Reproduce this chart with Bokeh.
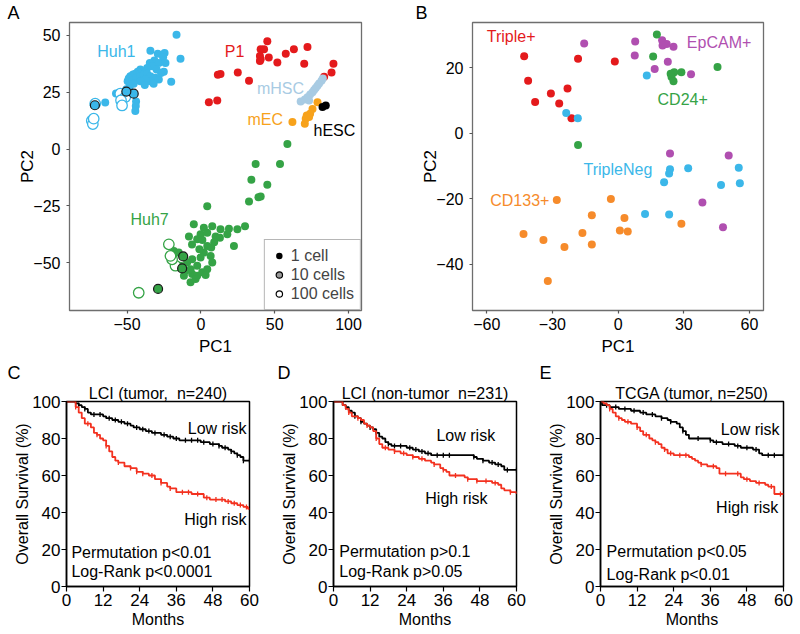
import numpy as np
from bokeh.plotting import figure
from bokeh.layouts import column, row
from bokeh.models import Legend, LegendItem, Range1d, FixedTicker, Title
from bokeh.core.properties import value
from bokeh.embed import file_html
from bokeh.resources import INLINE

FONT = "Liberation Sans"
RED = "#E41A1C"
GREEN = "#35A346"
BLUE = "#3BB7E9"
LIGHTBLUE = "#A8CBE3"
ORANGE_A = "#F7A21B"
ORANGE_B = "#F68B2B"
MAGENTA = "#B04FB0"
KM_RED = "#F3311F"
NAN = float("nan")

# ---------------- Panel A data ----------------
huh1_x = [-16.5, -34.2, -29.2, -24.6, -25.6, -13.8, -31.5, -34.6, -28.5, -24.0, -33.0, -36.4, -25.1, -20.1,
          -41.0, -42.8, -44.4, -46.0, -47.8, -48.9, -49.6, -46.6, -43.7, -41.0, -38.7, -36.4, -34.2, -30.8,
          -28.5, -34.2, -37.6, -41.0, -45.5, -48.2, -50.5, -53.5, -57.5, -64.8, -43.9, -44.1, -44.4,
          -38.0, -32.0, -27.0, -30.0]
huh1_y = [50.3, 43.3, 42.0, 42.3, 40.4, 39.8, 39.0, 37.9, 37.9, 37.9, 36.5, 35.7, 34.0, 29.6,
          35.0, 34.0, 33.1, 32.8, 32.1, 31.1, 29.9, 30.2, 31.4, 32.1, 32.8, 33.1, 32.1, 31.4,
          30.6, 29.9, 30.6, 29.9, 28.8, 27.7, 26.3, 24.8, 24.5, 20.5, 20.9, 19.0, 16.8,
          28.2, 28.8, 33.5, 35.0]
huh1_10_x = [-71.8, -45.5, -50.5]
huh1_10_y = [19.3, 24.4, 25.3]
huh1_100_x = [-71.6, -73.9, -73.2, -72.6, -54.6, -51.2, -54.1, -53.4]
huh1_100_y = [20.0, 12.5, 11.0, 13.4, 24.4, 22.9, 21.5, 19.2]

huh7_x = [58.6, 37.1, 53.6, 34.2, 45.0, 40.5, 39.0, 32.6, 4.3, 29.9, 24.7, 19.0, 13.3, 7.7, 2.0, -4.8,
          -0.2, 4.3, 10.0, 17.9, 22.4, 12.9, -2.5, -8.1, 4.3, 7.0, 2.0, 6.6, -0.2, -5.9, -9.3, -13.8,
          -10.4, -5.9, -2.5, 0.9, 4.3, 7.7, -2.5, -7.0, -11.5, -7.0, -3.6, 3.2, -18.3,
          -15.0, -1.0, 9.0, -6.0, 1.0]
huh7_y = [2.2, -6.5, -6.5, -13.5, -15.7, -20.8, -21.2, -23.0, -25.1, -33.9, -35.3, -35.0, -35.3, -33.9,
          -34.6, -33.1, -37.5, -36.8, -38.5, -37.5, -42.6, -39.0, -39.7, -38.5, -42.6, -43.3, -45.5,
          -47.0, -47.7, -48.4, -49.9, -51.3, -53.5, -54.9, -55.7, -54.2, -52.8, -49.9, -51.3, -52.8,
          -55.7, -58.6, -57.1, -55.4, -44.8,
          -45.5, -44.0, -41.0, -42.0, -40.0]
huh7_10_x = [-12.0, -12.7, -29.0]
huh7_10_y = [-47.2, -52.5, -61.5]
huh7_100_x = [-42.1, -21.7, -17.2, -19.5, -20.6]
huh7_100_y = [-63.2, -41.9, -51.3, -48.5, -47.0]

p1_x = [45.0, 40.5, 42.8, 40.0, 40.5, 40.0, 46.0, 51.8, 57.5, 63.0, 72.2, 70.0, 89.8, 88.5, 83.5,
        25.0, 13.3, 11.5, 32.6, 5.4, 11.1]
p1_y = [47.5, 43.9, 43.9, 41.0, 39.5, 38.8, 40.3, 38.1, 42.0, 43.9, 44.9, 37.6, 37.6, 33.7, 31.8,
        33.7, 33.0, 32.7, 30.1, 20.6, 21.4]
mhsc_x = [67.6, 70.4, 72.2, 74.0, 75.6, 76.7, 77.8, 79.0, 80.1, 81.7, 82.6, 73.3]
mhsc_y = [20.9, 21.8, 22.8, 24.0, 25.0, 26.0, 26.9, 27.9, 28.9, 30.1, 31.1, 21.4]
mec_x = [62.0, 79.0, 75.6, 74.0, 71.7, 71.0, 70.4, 73.3]
mec_y = [11.9, 20.6, 17.7, 15.6, 14.8, 13.4, 11.2, 14.1]
hesc_x = [82.4, 84.6]
hesc_y = [18.5, 19.2]

a_labels = ["Huh1", "P1", "mHSC", "mEC", "hESC", "Huh7"]
a_label_colors = [BLUE, RED, LIGHTBLUE, ORANGE_A, "black", GREEN]
a_label_x = [-70.2, 16.2, 38.0, 31.6, 76.3, -47.7]
a_label_y = [43.0, 43.0, 26.7, 13.2, 8.4, -31.0]
legend_labels = ["1 cell", "10 cells", "100 cells"]

# ---------------- Panel B data ----------------
triple_x = [-42.9, -41.1, -37.9, -30.7, -26.9, -23.1, -21.3, -18.3, -1.5]
triple_y = [23.6, 16.1, 9.6, 12.2, 9.1, 13.7, 4.6, 22.8, 22.0]
epcam_x = [-15.5, 7.8, 7.6, 16.7, 20.1, 22.2, 20.3, 25.3, 22.7, 33.3, 23.7, 50.5, 38.5, 47.9]
epcam_y = [27.5, 28.1, 23.8, 19.7, 28.5, 27.3, 26.9, 26.5, 21.9, 18.1, -6.2, -6.8, -21.2, -28.7]
cd24_x = [17.7, 16.0, 25.6, 24.4, 25.3, 24.0, 28.9, 45.4, -18.3]
cd24_y = [30.2, 23.5, 18.7, 17.2, 15.9, 18.2, 18.7, 20.3, -3.6]
tneg_x = [13.1, -23.7, -18.4, 23.7, 23.3, 21.0, 32.0, 55.1, 55.6, 47.0, 12.3, 23.3]
tneg_y = [17.7, 6.2, 4.6, -11.0, -12.3, -15.0, -10.7, -10.5, -15.3, -15.8, -24.7, -24.8]
cd133_x = [-28.0, -43.2, -34.1, -24.5, -16.3, -12.0, -12.0, -3.3, 2.9, 0.8, 4.4, 28.9, -32.1]
cd133_y = [-20.4, -30.8, -32.6, -34.8, -30.5, -25.1, -34.0, -20.1, -25.9, -29.7, -30.0, -27.7, -45.2]

b_labels = ["Triple+", "EpCAM+", "CD24+", "TripleNeg", "CD133+"]
b_label_colors = [RED, MAGENTA, GREEN, BLUE, ORANGE_B]
b_label_x = [-60.0, 31.4, 18.0, -15.8, -58.4]
b_label_y = [29.6, 27.9, 10.4, -11.2, -20.4]

# ---------------- Survival data (months, % surviving) ----------------
c_low_t = [0, 2, 3, 4, 5, 6, 7, 8, 12, 13, 15, 17, 19, 21, 22, 24, 26, 28, 31, 33, 35, 37, 44, 47, 50,
           51, 53, 54, 55, 56, 57, 58, 60]
c_low_s = [100, 100, 99, 98, 97, 96, 94, 93, 92, 91, 90, 89, 88, 87, 86, 85, 84, 83, 82, 81, 80, 79, 78,
           77, 76, 75, 74, 73, 72, 71, 70, 68, 68]
c_high_t = [0, 2, 3, 4, 5, 6, 8, 9, 10, 11, 12, 13, 14, 15, 16, 17, 19, 21, 23, 25, 27, 29, 31, 33, 34,
            36, 41, 45, 47, 52, 54, 56, 58, 59.5, 60]
c_high_s = [100, 100, 97, 94, 91, 88, 86, 83, 82, 80, 79, 76, 73, 70, 68, 67, 65, 64, 62, 61, 60, 58, 56,
            54, 53, 51, 50, 48, 47, 46, 45, 44, 43, 42, 42]
d_low_t = [0, 2, 3, 4, 5, 6, 7, 8, 9, 10, 11, 12, 13, 14, 15, 16, 17, 18, 19, 24, 26, 28, 30, 32, 46, 47,
           49, 51, 53, 55, 56, 60]
d_low_s = [100, 100, 98, 97, 95, 94, 92, 91, 89, 88, 87, 86, 85, 83, 81, 80, 78, 77, 76, 75, 74, 73, 72,
           71, 70, 69, 68, 67, 66, 65, 63, 63]
d_high_t = [0, 2, 3, 4, 5, 6, 8, 9, 10, 11, 12, 13, 14, 15, 16, 18, 20, 22, 24, 26, 28, 30, 32, 33, 35,
            36, 37, 38, 43, 44, 47, 52, 54, 55, 56, 58, 60]
d_high_s = [100, 100, 98, 96, 94, 92, 91, 90, 88, 87, 86, 84, 80, 77, 75, 74, 73, 72, 71, 70, 69, 68, 67,
            66, 64, 63, 62, 60, 59, 58, 57, 56, 55, 53, 52, 51, 50]
e_low_t = [0, 0.5, 3, 6, 10, 13, 15, 18, 20, 22, 23, 25, 26, 27, 28, 29, 36, 37, 40, 44, 46, 50, 52, 53, 60]
e_low_s = [100, 98, 97, 96, 95, 94, 93, 92, 91, 90, 89, 88, 86, 84, 82, 80, 79, 78, 77, 76, 75, 74, 72,
           71, 71]
e_high_t = [0, 1, 2, 3, 4, 5, 6, 7, 8, 10, 12, 13, 14, 16, 17, 18, 19, 20, 21, 22, 24, 29, 30, 31, 32,
            33, 35, 38, 39, 46, 47, 49, 51, 54, 55, 57, 60]
e_high_s = [100, 99, 98, 96, 94, 92, 91, 90, 89, 88, 86, 84, 82, 80, 79, 78, 77, 75, 74, 72, 71, 70, 69,
            68, 67, 66, 65, 64, 61, 59, 58, 57, 56, 55, 54, 50, 50]

# censoring marks (months)
c_low_cens = [3, 4, 6, 9, 11, 14, 16, 18, 20, 23, 25, 27, 29, 32, 34, 36, 39, 41, 43, 45, 48, 50, 52, 54, 56, 58, 60]
c_high_cens = [3, 7, 10, 13, 17, 21, 23, 25, 28, 31, 34, 38, 40, 43, 46, 49, 51, 53, 55, 57, 59]
d_low_cens = [4, 7, 9, 12, 14, 18, 20, 22, 25, 27, 29, 31, 34, 36, 38, 46, 49, 52, 54, 57, 60]
d_high_cens = [5, 8, 11, 14, 17, 20, 23, 26, 29, 33, 36, 40, 44, 47, 50, 53, 58]
e_low_cens = [2, 5, 8, 11, 14, 17, 20, 23, 27, 32, 36, 38, 42, 45, 48, 51, 55, 57, 60]
e_high_cens = [3, 6, 9, 12, 15, 18, 21, 23, 26, 28, 33, 37, 41, 45, 48, 52, 56, 59]

month_ticks = [0, 12, 24, 36, 48, 60]
surv_ticks = [0, 20, 40, 60, 80, 100]


def style_axes(p, tick_size, label_size, tick_len, tick_color, x_std, y_std, axis_line):
    for ax, (ls, als) in ((p.xaxis[0], x_std), (p.yaxis[0], y_std)):
        ax.major_label_text_font = FONT
        ax.major_label_text_font_size = tick_size
        ax.major_label_text_color = "black"
        ax.axis_label_text_font = FONT
        ax.axis_label_text_font_size = label_size
        ax.axis_label_text_font_style = "normal"
        ax.axis_label_text_color = "black"
        ax.major_tick_out = tick_len
        ax.major_tick_in = 0
        ax.major_tick_line_color = tick_color
        ax.major_tick_line_width = 1.2
        ax.minor_tick_line_color = None
        ax.major_label_standoff = ls
        ax.axis_label_standoff = als
        if axis_line:
            ax.axis_line_color = "black"
            ax.axis_line_width = 1.5
        else:
            ax.axis_line_color = None
    p.xgrid.visible = False
    p.ygrid.visible = False


def minus_overrides(ticks):
    return {t: ("\u2212" + str(abs(t)) if t < 0 else str(t)) for t in ticks}


def add_title(p, txt, size, align, offset):
    p.add_layout(Title(text=txt, align=align, offset=offset, text_font=FONT, text_font_size=size,
                       text_font_style="normal", text_color="black", standoff=0), "above")


# ---------------- Panel A ----------------
pA = figure(width=408, height=358, x_range=Range1d(-89, 108.8), y_range=Range1d(-71, 55.7),
            output_backend="svg", toolbar_location=None,
            min_border_left=69, min_border_right=47, min_border_top=21, min_border_bottom=46)
style_axes(pA, "16px", "17px", 3, "#555555", (4, 4), (6, -7), False)
pA.outline_line_color = "#6e6e6e"
pA.outline_line_width = 1.3
ax_ticks = [-50, 0, 50, 100]
ay_ticks = [-50, -25, 0, 25, 50]
pA.xaxis.ticker = FixedTicker(ticks=ax_ticks)
pA.yaxis.ticker = FixedTicker(ticks=ay_ticks)
pA.xaxis.major_label_overrides = minus_overrides(ax_ticks)
pA.yaxis.major_label_overrides = minus_overrides(ay_ticks)
pA.xaxis.axis_label = "PC1"
pA.yaxis.axis_label = "PC2"

DOT = 8
pA.scatter(huh1_x, huh1_y, size=DOT, fill_color=BLUE, line_color=None)
pA.scatter(huh7_x, huh7_y, size=DOT, fill_color=GREEN, line_color=None)
pA.scatter(p1_x, p1_y, size=DOT, fill_color=RED, line_color=None)
pA.scatter(mhsc_x, mhsc_y, size=DOT, fill_color=LIGHTBLUE, line_color=None)
pA.scatter(mec_x, mec_y, size=DOT, fill_color=ORANGE_A, line_color=None)
pA.scatter(hesc_x, hesc_y, size=DOT, fill_color="black", line_color=None)
pA.scatter(huh1_100_x, huh1_100_y, size=10.5, fill_color="white", line_color=BLUE, line_width=1.3)
pA.scatter(huh7_100_x, huh7_100_y, size=10.5, fill_color="white", line_color=GREEN, line_width=1.3)
pA.scatter(huh1_10_x, huh1_10_y, size=9, fill_color=BLUE, line_color="#1a1a1a", line_width=1.2)
pA.scatter(huh7_10_x, huh7_10_y, size=9, fill_color=GREEN, line_color="#1a1a1a", line_width=1.2)

pA.text(a_label_x, a_label_y, text=a_labels, text_color=a_label_colors, text_font=value(FONT),
        text_font_size="16px", text_baseline="middle", text_align="left")

# legend key glyphs (no data points of their own)
lg1 = pA.scatter([NAN], [NAN], size=7.5, fill_color="black", line_color=None)
lg2 = pA.scatter([NAN], [NAN], size=9, fill_color="#9a9a9a", line_color="black", line_width=1.2)
lg3 = pA.scatter([NAN], [NAN], size=10.5, fill_color="white", line_color="black", line_width=1.2)
legend = Legend(items=[LegendItem(label=legend_labels[0], renderers=[lg1]),
                       LegendItem(label=legend_labels[1], renderers=[lg2]),
                       LegendItem(label=legend_labels[2], renderers=[lg3])],
                location="bottom_right", margin=0, padding=6, spacing=0,
                label_text_font=FONT, label_text_font_size="16px", label_standoff=4,
                glyph_width=16, glyph_height=19, label_height=19,
                border_line_color="#6e6e6e", border_line_width=1.2, background_fill_alpha=1)
pA.add_layout(legend)
add_title(pA, "A", "18px", "left", -62)

# ---------------- Panel B ----------------
pB = figure(width=392, height=358, x_range=Range1d(-66.5, 66.4), y_range=Range1d(-54.2, 33.9),
            output_backend="svg", toolbar_location=None,
            min_border_left=64, min_border_right=37, min_border_top=21, min_border_bottom=48)
style_axes(pB, "16px", "17px", 3, "#555555", (4, 4), (6, -7), False)
pB.outline_line_color = "#6e6e6e"
pB.outline_line_width = 1.3
bx_ticks = [-60, -30, 0, 30, 60]
by_ticks = [-40, -20, 0, 20]
pB.xaxis.ticker = FixedTicker(ticks=bx_ticks)
pB.yaxis.ticker = FixedTicker(ticks=by_ticks)
pB.xaxis.major_label_overrides = minus_overrides(bx_ticks)
pB.yaxis.major_label_overrides = minus_overrides(by_ticks)
pB.xaxis.axis_label = "PC1"
pB.yaxis.axis_label = "PC2"
pB.scatter(triple_x, triple_y, size=DOT, fill_color=RED, line_color=None)
pB.scatter(epcam_x, epcam_y, size=DOT, fill_color=MAGENTA, line_color=None)
pB.scatter(cd24_x, cd24_y, size=DOT, fill_color=GREEN, line_color=None)
pB.scatter(tneg_x, tneg_y, size=DOT, fill_color=BLUE, line_color=None)
pB.scatter(cd133_x, cd133_y, size=DOT, fill_color=ORANGE_B, line_color=None)
pB.text(b_label_x, b_label_y, text=b_labels, text_color=b_label_colors, text_font=value(FONT),
        text_font_size="16px", text_baseline="middle", text_align="left")
add_title(pB, "B", "18px", "left", -57)


# ---------------- Survival panels ----------------
def km_panel(width, left, right, title, let, let_off, curves, low_xy, high_xy, txt_x, perm_y, lr_y,
             perm_txt, lr_txt):
    p = figure(width=width, height=276, x_range=Range1d(0, 60), y_range=Range1d(0, 100),
               output_backend="svg", toolbar_location=None,
               min_border_left=left, min_border_right=right, min_border_top=43, min_border_bottom=48)
    style_axes(p, "17px", "16px", 5, "black", (2, 2), (1, -2), True)
    p.outline_line_color = "black"
    p.outline_line_width = 1.5
    p.xaxis.ticker = FixedTicker(ticks=month_ticks)
    p.yaxis.ticker = FixedTicker(ticks=surv_ticks)
    p.xaxis.axis_label = "Months"
    p.yaxis.axis_label = "Overall Survival (%)"
    for t, s, cens, col in curves:
        p.step(t, s, mode="after", line_color=col, line_width=1.8)
        ta = np.asarray(t, dtype=float)
        sa = np.asarray(s, dtype=float)
        ca = np.asarray(cens, dtype=float)
        cy = sa[np.clip(np.searchsorted(ta, ca, side="right") - 1, 0, len(sa) - 1)]
        p.scatter(ca, cy, marker="dash", angle=np.pi / 2, size=5, line_color=col, line_width=1.3)
    p.text([low_xy[0]], [low_xy[1]], text=["Low risk"], text_font=value(FONT), text_font_size="16px",
           text_align="right", text_baseline="middle", text_color="black")
    p.text([high_xy[0]], [high_xy[1]], text=["High risk"], text_font=value(FONT), text_font_size="16px",
           text_align="right", text_baseline="middle", text_color="black")
    p.text([txt_x, txt_x], [perm_y, lr_y], text=[perm_txt, lr_txt], text_font=value(FONT),
           text_font_size="16px", text_align="left", text_baseline="middle", text_color="black")
    add_title(p, title, "16px", "center", 0)
    add_title(p, let, "18px", "left", let_off)
    return p


pC = km_panel(270, 66, 21, "LCI (tumor, \u00a0n=240)", "C", -59,
              [(c_low_t, c_low_s, c_low_cens, "black"), (c_high_t, c_high_s, c_high_cens, KM_RED)],
              (59, 85.6), (59, 36.4), 1.6, 18.6, 8.2, "Permutation p<0.01", "Log-Rank p<0.0001")
pD = km_panel(266, 63, 20, "LCI (non-tumor \u00a0n=231)", "D", -56,
              [(d_low_t, d_low_s, d_low_cens, "black"), (d_high_t, d_high_s, d_high_cens, KM_RED)],
              (53, 81.4), (50.5, 47.4), 1.9, 18.8, 8.2, "Permutation p>0.1", "Log-Rank p>0.05")
pE = km_panel(264, 64, 17, "TCGA (tumor, n=250)", "E", -61,
              [(e_low_t, e_low_s, e_low_cens, "black"), (e_high_t, e_high_s, e_high_cens, KM_RED)],
              (58.7, 85.0), (58.3, 42.8), 2.0, 18.8, 6.7, "Permutation p<0.05", "Log-Rank p<0.01")

layout = column(row(pA, pB), row(pC, pD, pE))
open("out.html", "w").write(file_html(layout, INLINE))
